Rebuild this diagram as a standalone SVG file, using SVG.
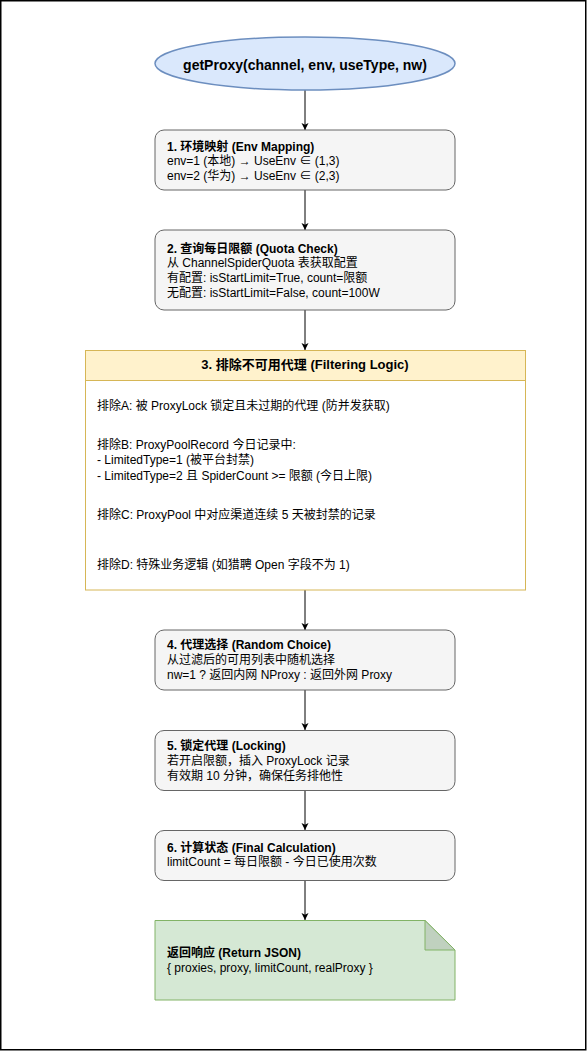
<svg xmlns="http://www.w3.org/2000/svg" width="587" height="1051" viewBox="0 0 587 1051">
<defs>
<marker id="arr" markerWidth="8" markerHeight="8" refX="7" refY="4" orient="auto" markerUnits="userSpaceOnUse">
<path d="M0,0.5 L7,4 L0,7.5 L1.8,4 Z" fill="#000"/>
</marker>
<style>
text{font-family:"Liberation Sans","Noto Sans CJK SC",Arial,sans-serif;font-size:12px;fill:#000}
.b{font-weight:bold}
.box{fill:#f5f5f5;stroke:#666666;stroke-width:1}
.conn line{stroke:#000;stroke-width:1;marker-end:url(#arr)}
</style>
</defs>
<rect x="0" y="0" width="587" height="1051" fill="#fff"/>
<rect x="0.75" y="0.75" width="585" height="1049" fill="none" stroke="#000" stroke-width="1.5"/>

<g class="conn" id="connectors">
<line x1="305" y1="90" x2="305" y2="130"/>
<line x1="305" y1="190" x2="305" y2="230"/>
<line x1="305" y1="310" x2="305" y2="350"/>
<line x1="305" y1="590" x2="305" y2="630"/>
<line x1="305" y1="690" x2="305" y2="730"/>
<line x1="305" y1="790" x2="305" y2="830"/>
<line x1="305" y1="880" x2="305" y2="920"/>
</g>

<g id="start">
<ellipse cx="305" cy="63.5" rx="150" ry="26.5" fill="#dae8fc" stroke="#6c8ebf" stroke-width="1.5"/>
<text x="305" y="70" text-anchor="middle" class="b" style="font-size:14px">getProxy(channel, env, useType, nw)</text>
</g>

<g id="step1">
<rect class="box" x="155" y="130" width="300" height="60" rx="9"/>
<text x="167" y="150.5" class="b">1. 环境映射 (Env Mapping)</text>
<text x="167" y="165.2">env=1 (本地) → UseEnv ∈ (1,3)</text>
<text x="167" y="179.9">env=2 (华为) → UseEnv ∈ (2,3)</text>
</g>

<g id="step2">
<rect class="box" x="155" y="230" width="300" height="80" rx="9"/>
<text x="167" y="252.5" class="b">2. 查询每日限额 (Quota Check)</text>
<text x="167" y="267.3">从 ChannelSpiderQuota 表获取配置</text>
<text x="167" y="282.1">有配置: isStartLimit=True, count=限额</text>
<text x="167" y="296.9">无配置: isStartLimit=False, count=100W</text>
</g>

<g id="step3">
<rect x="85.5" y="350.5" width="440" height="239.5" fill="#ffffff" stroke="#d6b656"/>
<rect x="85.5" y="350.5" width="440" height="30" fill="#fff2cc" stroke="#d6b656"/>
<text x="305" y="368.5" text-anchor="middle" class="b" style="font-size:13px">3. 排除不可用代理 (Filtering Logic)</text>
<text x="97" y="409.7">排除A: 被 ProxyLock 锁定且未过期的代理 (防并发获取)</text>
<text x="97" y="449">排除B: ProxyPoolRecord 今日记录中:</text>
<text x="97" y="464">- LimitedType=1 (被平台封禁)</text>
<text x="97" y="479.5">- LimitedType=2 且 SpiderCount &gt;= 限额 (今日上限)</text>
<text x="97" y="519">排除C: ProxyPool 中对应渠道连续 5 天被封禁的记录</text>
<text x="97" y="569">排除D: 特殊业务逻辑 (如猎聘 Open 字段不为 1)</text>
</g>

<g id="step4">
<rect class="box" x="155" y="630" width="300" height="60" rx="9"/>
<text x="167" y="649" class="b">4. 代理选择 (Random Choice)</text>
<text x="167" y="664">从过滤后的可用列表中随机选择</text>
<text x="167" y="679">nw=1 ? 返回内网 NProxy : 返回外网 Proxy</text>
</g>

<g id="step5">
<rect class="box" x="155" y="730.5" width="300" height="60" rx="9"/>
<text x="167" y="750" class="b">5. 锁定代理 (Locking)</text>
<text x="167" y="765">若开启限额，插入 ProxyLock 记录</text>
<text x="167" y="779.7">有效期 10 分钟，确保任务排他性</text>
</g>

<g id="step6">
<rect class="box" x="155" y="830.5" width="300" height="50" rx="9"/>
<text x="167" y="851.7" class="b">6. 计算状态 (Final Calculation)</text>
<text x="167" y="866.3">limitCount = 每日限额 - 今日已使用次数</text>
</g>

<g id="result">
<path d="M155,920.5 H425 L455,950 V1000 H155 Z" fill="#d5e8d4" stroke="#82b366"/>
<path d="M425,920.5 V950 H455 Z" fill="#c0d1bf" stroke="#82b366"/>
<text x="167" y="957.3" class="b">返回响应 (Return JSON)</text>
<text x="167" y="972.3">{ proxies, proxy, limitCount, realProxy }</text>
</g>
</svg>
